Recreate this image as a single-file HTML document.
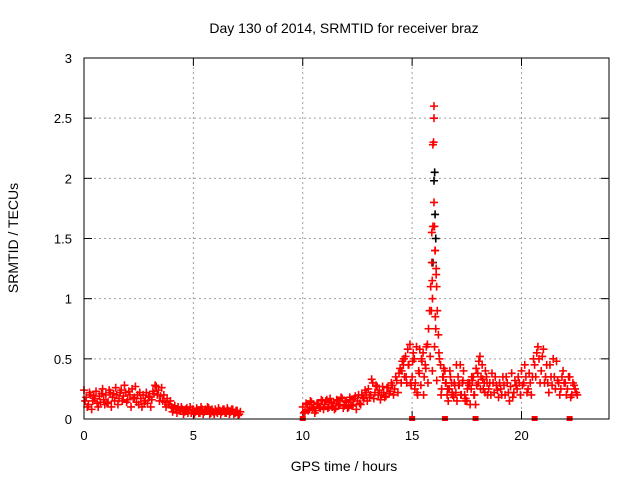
<!DOCTYPE html>
<html><head><meta charset="utf-8"><style>
body{margin:0;background:#fff;}
svg{display:block;font-family:"Liberation Sans",sans-serif;}
</style></head><body>
<svg id="chart" width="640" height="480" viewBox="0 0 640 480">
<rect width="640" height="480" fill="#fff"/>
<text x="344" y="33" text-anchor="middle" font-size="14">Day 130 of 2014, SRMTID for receiver braz</text>
<text x="344" y="471" text-anchor="middle" font-size="14">GPS time / hours</text>
<text transform="translate(18,238) rotate(-90)" text-anchor="middle" font-size="14">SRMTID / TECUs</text>
<g id="grid"></g><g id="ticks"></g><g id="marks"></g>
<rect x="84" y="58" width="525" height="361" fill="none" stroke="#000" stroke-width="1"/>
</svg>
<script>
const xTicks=[0,5,10,15,20];
const yTicks=[0,0.5,1,1.5,2,2.5,3];
const yTickLabels=["0","0.5","1","1.5","2","2.5","3"];
const seg1Start=0.0, seg1Step=0.1;
const seg1A=[0.24,0.18,0.12,0.2,0.15,0.17,0.13,0.19,0.21,0.16,0.2,0.14,0.22,0.18,0.15,0.2,0.17,0.24,0.19,0.22,0.16,0.2,0.25,0.18,0.14,0.12,0.17,0.2,0.15,0.13,0.18,0.16,0.21,0.27,0.24,0.19,0.15,0.14,0.17,0.12,0.1,0.09,0.08,0.1,0.07,0.08,0.06,0.09,0.07,0.05,0.08,0.06,0.07,0.05,0.08,0.06,0.07,0.09,0.05,0.06,0.08,0.05,0.07,0.06,0.08,0.05,0.07,0.06,0.08,0.05,0.07,0.04];
const seg1B=[0.15,0.1,0.22,0.08,0.19,0.23,0.1,0.14,0.25,0.12,0.13,0.24,0.1,0.21,0.26,0.12,0.22,0.15,0.28,0.14,0.23,0.1,0.17,0.27,0.2,0.22,0.1,0.13,0.22,0.19,0.1,0.23,0.28,0.2,0.15,0.26,0.2,0.1,0.12,0.15,0.06,0.11,0.05,0.07,0.1,0.04,0.08,0.05,0.1,0.08,0.04,0.09,0.05,0.1,0.04,0.08,0.1,0.04,0.08,0.04,0.06,0.09,0.04,0.08,0.05,0.09,0.04,0.08,0.04,0.07,0.03,0.06];
const seg2Start=10.0, seg2Step=0.1;
const seg2A=[0.1,0.06,0.12,0.08,0.14,0.1,0.07,0.12,0.09,0.15,0.12,0.16,0.1,0.14,0.13,0.09,0.15,0.12,0.17,0.11,0.14,0.1,0.16,0.12,0.19,0.15,0.13,0.2,0.17,0.22,0.25,0.2,0.3,0.22,0.27,0.24,0.2,0.22,0.19,0.26,0.23,0.28,0.25,0.32,0.38,0.3,0.45,0.52,0.58,0.62,0.35,0.5,0.6,0.4,0.28,0.55,0.45,0.62,0.9,1.3,1.8,1.2,0.7,0.45,0.35,0.4,0.2,0.25,0.3,0.18,0.22,0.35,0.45,0.3,0.2,0.15,0.28,0.25,0.35,0.12,0.38,0.52,0.45,0.3,0.35,0.25,0.2,0.3,0.35,0.24,0.3,0.2,0.28,0.35,0.22,0.27,0.18,0.32,0.25,0.3,0.4,0.3,0.35,0.25,0.3,0.35,0.45,0.55,0.5,0.4,0.58,0.35,0.3,0.45,0.28,0.35,0.48,0.3,0.25,0.4,0.3,0.25,0.35,0.2,0.28,0.22];
const seg2B=[0.05,0.13,0.07,0.15,0.09,0.05,0.13,0.1,0.16,0.08,0.15,0.09,0.17,0.1,0.08,0.16,0.11,0.18,0.09,0.15,0.09,0.18,0.11,0.17,0.08,0.2,0.12,0.18,0.24,0.15,0.18,0.33,0.17,0.28,0.2,0.16,0.27,0.18,0.26,0.21,0.3,0.2,0.35,0.22,0.42,0.48,0.35,0.3,0.45,0.28,0.55,0.3,0.2,0.58,0.48,0.35,0.6,0.75,1.1,1.6,1.4,0.9,0.5,0.25,0.42,0.3,0.15,0.35,0.2,0.28,0.15,0.28,0.2,0.4,0.17,0.3,0.12,0.32,0.2,0.28,0.48,0.35,0.25,0.4,0.2,0.3,0.38,0.22,0.28,0.18,0.25,0.35,0.2,0.3,0.15,0.38,0.22,0.28,0.35,0.2,0.28,0.45,0.22,0.38,0.2,0.5,0.35,0.6,0.3,0.52,0.3,0.45,0.22,0.35,0.5,0.25,0.32,0.2,0.35,0.3,0.2,0.35,0.18,0.3,0.25,0.2];
const seg3Start=14.5, seg3Step=0.1;
const seg3=[0.4,0.5,0.35,0.45,0.3,0.48,0.25,0.22,0.38,0.5,0.2,0.42,0.3,0.52,0.4,0.6,0.32,0.55,0.2,0.35,0.3,0.25,0.4,0.22,0.3,0.45,0.28,0.2,0.32,0.15,0.25,0.3,0.35,0.2,0.42,0.3,0.25,0.33,0.22,0.3];
const spikeTimes=[15.95,16.0,16.0,15.98,16.05,16.1,15.9,15.92,16.02,15.88,16.08,16.12,15.93,16.06];
const spikeVals=[2.28,2.6,2.5,2.3,1.4,1.25,1.55,1.15,1.6,0.9,0.75,1.1,1.0,0.85];
const blackTimes=[16.03,16.0,16.05,15.95,16.08];
const blackVals=[2.05,1.98,1.7,1.3,1.5];
const zeroTimes=[10.0,15.0,16.5,17.9,20.6,22.2];
const zeroVals=[0,0,0,0,0,0];

const X0=84,X1=609,Y0=419,Y1=58,XMAX=24,YMAX=3;
function sx(t){return X0+(t/XMAX)*(X1-X0);}
function sy(v){return Y0-(v/YMAX)*(Y0-Y1);}
const NS="http://www.w3.org/2000/svg";
const grid=document.getElementById('grid'),ticks=document.getElementById('ticks'),marks=document.getElementById('marks');
function mk(tag,attrs,parent){const e=document.createElementNS(NS,tag);for(const k in attrs)e.setAttribute(k,attrs[k]);parent.appendChild(e);return e;}
xTicks.forEach(t=>{
  const x=sx(t);
  if(t>0){const g=mk('line',{x1:x,y1:Y0,x2:x,y2:Y1,stroke:'#a0a0a0','stroke-dasharray':'2,3'},grid);
  
  }
  mk('line',{x1:x,y1:Y0,x2:x,y2:Y0-8,stroke:'#000'},ticks);
  mk('line',{x1:x,y1:Y1,x2:x,y2:Y1+8,stroke:'#000'},ticks);
  const l=mk('text',{x:x,y:Y0+21,'text-anchor':'middle','font-size':13},ticks);
  l.textContent=String(t);
  
  
});
yTicks.forEach((v,i)=>{
  const y=sy(v);
  if(v>0&&v<YMAX){const g=mk('line',{x1:X0,y1:y,x2:X1,y2:y,stroke:'#a0a0a0','stroke-dasharray':'2,3'},grid);
  
  }
  mk('line',{x1:X0,y1:y,x2:X0+8,y2:y,stroke:'#000'},ticks);
  mk('line',{x1:X1,y1:y,x2:X1-8,y2:y,stroke:'#000'},ticks);
  const l=mk('text',{x:X0-12,y:y+5,'text-anchor':'end','font-size':13},ticks);
  l.textContent=yTickLabels[i];
  
  
});
function plus(t,v,color){
  const x=sx(t),y=sy(v);
  const p=mk('path',{d:`M${x-4},${y}h8M${x},${y-4}v8`,stroke:color,'stroke-width':1.6,fill:'none'},marks);
  
  
}
blackTimes.forEach((t,i)=>plus(t,blackVals[i],'#000'));
seg1A.forEach((v,i)=>plus(seg1Start+i*seg1Step,v,'#f00'));
seg1B.forEach((v,i)=>plus(seg1Start+0.05+i*seg1Step,v,'#f00'));
seg2A.forEach((v,i)=>plus(seg2Start+i*seg2Step,v,'#f00'));
seg2B.forEach((v,i)=>plus(seg2Start+0.05+i*seg2Step,v,'#f00'));
seg3.forEach((v,i)=>plus(seg3Start+0.025+i*seg3Step,v,'#f00'));
spikeTimes.forEach((t,i)=>plus(t,spikeVals[i],'#f00'));
zeroTimes.forEach((t,i)=>{
  const r=mk('rect',{x:sx(t)-3,y:sy(zeroVals[i])-3,width:6,height:5,fill:'#f00'},marks);
  
  
});
</script>
</body></html>
